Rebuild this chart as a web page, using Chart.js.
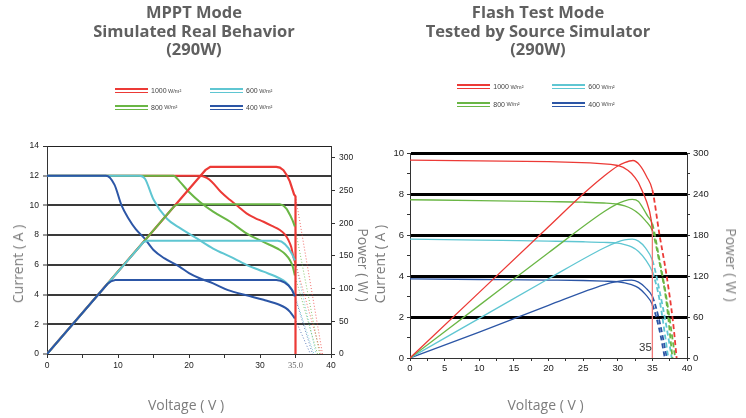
<!DOCTYPE html>
<html><head><meta charset="utf-8">
<script src="https://cdn.jsdelivr.net/npm/chart.js@4.4.1/dist/chart.umd.min.js"></script>
<style>
html,body{margin:0;padding:0;background:#fff;}
#wrap{position:relative;width:746px;height:418px;overflow:hidden;font-family:'Open Sans',sans-serif;background:#fff;}
canvas{position:absolute;top:0;}
.title{position:absolute;top:3px;transform:translateX(-50%);text-align:center;font-weight:700;font-size:16.5px;line-height:18.5px;color:#606060;white-space:nowrap;}
.ax{position:absolute;transform:translate(-50%,-50%);font-size:14px;color:#7d7d7d;white-space:nowrap;line-height:16px;}
.leg{position:absolute;display:flex;align-items:center;white-space:nowrap;height:5.4px;}
.leg .sw{width:33px;height:5.4px;box-sizing:border-box;border-top:2.7px solid;border-bottom:1.3px solid;margin-right:3px;}
.leg .n{font-size:7px;color:#444;font-family:'Liberation Sans',Arial,sans-serif;}
.leg .u{font-size:5.5px;color:#444;margin-left:1.5px;font-family:'Liberation Sans',Arial,sans-serif;}
</style></head>
<body>
<div id="wrap">
  <canvas id="c1" width="373" height="418" style="left:0"></canvas>
  <canvas id="c2" width="373" height="418" style="left:373px"></canvas>
  <div class="title" style="left:194px">MPPT Mode<br>Simulated Real Behavior<br>(290W)</div>
  <div class="title" style="left:538px">Flash Test Mode<br>Tested by Source Simulator<br>(290W)</div>
  <div class="ax" style="left:18px;top:264px;transform:translate(-50%,-50%) rotate(-90deg)">Current ( A )</div>
  <div class="ax" style="left:362.5px;top:265px;transform:translate(-50%,-50%) rotate(90deg)">Power ( W )</div>
  <div class="ax" style="left:186px;top:405px">Voltage ( V )</div>
  <div class="ax" style="left:380px;top:264px;transform:translate(-50%,-50%) rotate(-90deg)">Current ( A )</div>
  <div class="ax" style="left:730.5px;top:265px;transform:translate(-50%,-50%) rotate(90deg)">Power ( W )</div>
  <div class="ax" style="left:545.5px;top:405px">Voltage ( V )</div>
</div>
<script>
// ---------- DATA ----------
const irradiance = ['1000', '800', '600', '400'];
const irradianceUnit = 'W/m²';

// MPPT mode (left) : current (A) vs voltage (V)
const mpptCurrent1000 = [[0,12],[21.5,12],[22.5,11.85],[23.2,11.6],[24.5,10.9],[25.8,10.36],[27,9.9],[28.1,9.47],[29.3,9.15],[30.5,8.9],[31.7,8.62],[32.8,8.35],[33.5,8.05],[34,7.67],[34.4,7.2],[34.7,6.55],[35,6.1]];
const mpptCurrent800  = [[0,12],[17.8,12],[18.7,11.6],[20,10.9],[21.5,10.25],[23.4,9.58],[25.8,8.9],[28.1,8.12],[30.4,7.56],[32.8,7.0],[33.6,6.7],[34.2,6.33],[34.6,5.9],[34.9,5.3]];
const mpptCurrent600  = [[0,12],[13,12],[13.8,11.8],[15,10.4],[16.9,9.1],[18.8,8.45],[21.1,7.78],[23.4,7.1],[25.8,6.55],[28.1,6.0],[30.5,5.54],[32.8,5.09],[33.6,4.85],[34.2,4.53],[34.6,4.25],[34.9,3.97]];
const mpptCurrent400  = [[0,12],[8.3,12],[9.5,11.4],[10.5,10.0],[11.5,9.1],[12.5,8.4],[13.7,7.8],[15,7.0],[16.5,6.45],[18.7,5.87],[20,5.45],[21.5,5.1],[23.4,4.75],[25.5,4.3],[28.1,3.95],[30.5,3.65],[32.8,3.3],[33.6,3.1],[34.2,2.85],[34.9,2.4]];
// MPPT mode (left) : power (W) vs voltage (V)
const mpptPower1000 = [[0,0],[21.5,271],[22.3,281],[23,286],[32.3,286],[32.8,285],[33.3,281],[33.8,273],[34.2,264],[34.5,254],[34.8,244],[35,241],[35,0]];
const mpptPower800  = [[0,0],[17.6,222],[18.0,227],[18.6,229],[32.8,229],[33.3,227],[33.8,221],[34.3,211],[34.6,204],[34.9,195]];
const mpptPower600  = [[0,0],[13.2,166],[13.6,171],[14.1,173],[32.5,173],[33.0,172],[33.5,168],[34.0,162],[34.5,153],[34.9,143]];
const mpptPower400  = [[0,0],[8.5,107],[9.0,111],[9.6,113],[32.3,113],[32.9,112],[33.5,109],[34.0,105],[34.5,98],[34.9,88]];
// MPPT mode (left) : dotted extrapolation beyond 35 V
const mpptTailCurrent1000 = [[35,6.1],[38.6,0]];
const mpptTailCurrent800  = [[34.9,5.3],[38.1,0]];
const mpptTailCurrent600  = [[34.9,3.97],[37.6,0]];
const mpptTailCurrent400  = [[34.9,2.4],[37.1,0]];
const mpptTailPower1000 = [[35,241],[38.8,0]];
const mpptTailPower800  = [[34.9,195],[38.4,0]];
const mpptTailPower600  = [[34.9,143],[37.9,0]];
const mpptTailPower400  = [[34.9,88],[37.4,0]];

// Flash test mode (right) : current (A) vs voltage (V)
const flashCurrent1000 = [[0,9.65],[10,9.62],[20,9.58],[26,9.52],[29,9.45],[30,9.39],[30.8,9.3],[31.5,9.15],[32,9.0],[32.5,8.8],[33,8.55],[33.4,8.25],[33.8,7.95],[34.2,7.6],[34.6,7.15],[34.85,6.7],[35,6.2],[35,0]];
const flashCurrent800  = [[0,7.72],[10,7.68],[20,7.63],[25,7.6],[28,7.56],[30,7.5],[31,7.42],[32,7.28],[33,7.05],[34,6.7],[35,6.2],[36,4.7],[37,2.8],[37.9,0]];
const flashCurrent600  = [[0,5.8],[10,5.75],[20,5.7],[25,5.67],[28,5.64],[30,5.6],[31,5.53],[32,5.42],[33,5.2],[34,4.8],[35,4.2],[36,2.9],[37.3,0]];
const flashCurrent400  = [[0,3.86],[10,3.83],[20,3.8],[25,3.78],[28,3.75],[30,3.72],[31,3.67],[32,3.58],[33,3.42],[34,3.1],[35,2.6],[36,1.4],[36.8,0]];
// Flash test mode (right) : power (W) vs voltage (V)
const flashPower1000 = [[0,0],[10,96],[20,192],[25,240],[28,266],[30,281],[31,286],[32.2,289],[33.2,282],[34.2,265],[35,246],[36,182],[37,124],[38,51],[38.5,0]];
const flashPower800  = [[0,0],[10,77],[20,154],[28,214],[30,226],[31,230],[32.1,232],[33,229],[33.6,220],[34.3,208],[35,196],[36,145],[37,90],[38.3,0]];
const flashPower600  = [[0,0],[10,58],[20,116],[28,161],[30,170],[31,173],[32.1,174],[33,171],[34,161],[35,143],[36,100],[37,48],[37.8,0]];
const flashPower400  = [[0,0],[10,38],[20,77],[28,107],[30,112],[31,113.5],[32,114],[33,111],[34,103],[35,90],[36,55],[37.1,0]];

// Tick labels
const mpptXLabels = [0, 10, 20, 30, 40];
const mpptCutoffLabel = '35.0';
const mpptCutoffVoltage = 35;
const mpptCurrentTicks = [0, 2, 4, 6, 8, 10, 12, 14];
const mpptPowerTicks = [0, 50, 100, 150, 200, 250, 300];
const flashXLabels = [0, 5, 10, 15, 20, 25, 30, 35, 40];
const flashCurrentLabels = [0, 2, 4, 6, 8, 10];
const flashPowerLabels = [0, 60, 120, 180, 240, 300];
const flashCutoffLabel = '35';

// ---------- STYLE ----------
const colors = ['#ec3a36', '#6ab645', '#5fc6d2', '#2c56a6'];
const tailColors = ['rgba(236,58,54,0.75)', 'rgba(106,182,69,0.8)', 'rgba(95,198,210,0.8)', 'rgba(44,86,166,0.75)'];
const legendPos = [
  [[115,88],[115,104.7],[210,88],[210,104.7]],
  [[457.3,84],[457.3,101.7],[552.3,84],[552.3,101.7]]
];

const wrap = document.getElementById('wrap');
legendPos.forEach(pos => {
  irradiance.forEach((lab, i) => {
    const d = document.createElement('div');
    d.className = 'leg';
    d.style.left = pos[i][0] + 'px';
    d.style.top = pos[i][1] + 'px';
    d.innerHTML = '<div class="sw" style="border-color:' + colors[i] + '"></div><span class="n">' + lab + '</span><span class="u">' + irradianceUnit + '</span>';
    wrap.appendChild(d);
  });
});

const pts = a => a.map(p => ({x: p[0], y: p[1]}));
// curves whose x values strictly increase use monotone interpolation (no overshoot);
// curves containing a vertical drop are drawn with straight segments
function line(data, color, axis, extra) {
  const increasing = data.every((p, i) => i === 0 || p[0] > data[i - 1][0]);
  const base = {data: pts(data), borderColor: color, backgroundColor: color, yAxisID: axis,
    showLine: true, pointRadius: 0, fill: false, borderWidth: 2};
  if (increasing) base.cubicInterpolationMode = 'monotone'; else base.tension = 0;
  return Object.assign(base, extra || {});
}
const straight = {cubicInterpolationMode: 'default', tension: 0};

const tickFont = size => ({family: "'Liberation Sans', Arial, sans-serif", size: size});

// ---------- LEFT CHART ----------
const mpptCurrents = [mpptCurrent1000, mpptCurrent800, mpptCurrent600, mpptCurrent400];
const mpptPowers = [mpptPower1000, mpptPower800, mpptPower600, mpptPower400];
const mpptTailI = [mpptTailCurrent1000, mpptTailCurrent800, mpptTailCurrent600, mpptTailCurrent400];
const mpptTailP = [mpptTailPower1000, mpptTailPower800, mpptTailPower600, mpptTailPower400];

const leftSets = [];
// dataset 0 is drawn on top
for (let i = 3; i >= 0; i--) leftSets.push(line(mpptPowers[i], colors[i], 'y1', Object.assign({}, straight, i === 0 ? {borderWidth: 2.2} : {})));
for (let i = 3; i >= 0; i--) leftSets.push(line(mpptCurrents[i], colors[i], 'y'));
for (let i = 0; i < 4; i++) {
  leftSets.push(line(mpptTailP[i], tailColors[i], 'y1', {borderWidth: 1, borderDash: [1, 2]}));
  leftSets.push(line(mpptTailI[i], tailColors[i], 'y', {borderWidth: 1, borderDash: [1, 2]}));
}

new Chart(document.getElementById('c1'), {
  type: 'scatter',
  data: {datasets: leftSets},
  options: {
    responsive: false, animation: false, devicePixelRatio: 1,
    layout: {padding: {left: 0, top: 146, right: 12, bottom: 44}},
    plugins: {legend: {display: false}, tooltip: {enabled: false}, title: {display: false}},
    scales: {
      x: {type: 'linear', min: 0, max: 40,
        ticks: {stepSize: 5, autoSkip: false, maxRotation: 0, padding: 3, color: c => c.tick && c.tick.value === mpptCutoffVoltage ? '#666' : '#222',
          font: c => (c.tick && c.tick.value === mpptCutoffVoltage) ? {family: "'Liberation Serif', serif", size: 8.5} : tickFont(8.5),
          callback: v => mpptXLabels.includes(v) ? String(v) : (v === mpptCutoffVoltage ? mpptCutoffLabel : '')},
        grid: {drawOnChartArea: false, tickLength: 4, color: '#333', tickWidth: 1},
        border: {color: '#333', width: 1},
        afterFit: s => { s.height = 20; }},
      y: {type: 'linear', position: 'left', min: 0, max: 14,
        ticks: {stepSize: 2, autoSkip: false, padding: 4, color: '#222', font: tickFont(8.5),
          callback: v => mpptCurrentTicks.includes(v) ? String(v) : ''},
        grid: {tickLength: 4, tickColor: '#333', tickWidth: 1,
          color: c => c.tick.value === 0 ? 'rgba(0,0,0,0)' : (c.tick.value === 14 ? '#222' : '#3a3a3a'),
          lineWidth: c => c.tick.value === 14 ? 1 : 2},
        border: {color: '#333', width: 1},
        afterFit: s => { s.width = 47; }},
      y1: {type: 'linear', position: 'right', min: 0, max: 318,
        ticks: {stepSize: 50, includeBounds: false, autoSkip: false, padding: 4, color: '#222', font: tickFont(8.5),
          callback: v => mpptPowerTicks.includes(v) ? String(v) : ''},
        grid: {drawOnChartArea: false, tickLength: 4, color: '#333', tickWidth: 1},
        border: {color: '#333', width: 1},
        afterFit: s => { s.width = 30; }}
    }
  }
});

// ---------- RIGHT CHART ----------
const flashCurrents = [flashCurrent1000, flashCurrent800, flashCurrent600, flashCurrent400];
const flashPowers = [flashPower1000, flashPower800, flashPower600, flashPower400];
const cutoff = 35;
const seg = () => ({
  borderDash: c => (c.p0.parsed.x >= cutoff && c.p1.parsed.x > c.p0.parsed.x) ? [5, 3] : undefined,
  borderWidth: c => (c.p0.parsed.x >= cutoff && c.p1.parsed.x > c.p0.parsed.x) ? 1.8 : undefined,
  borderColor: c => (c.p0.parsed.x === c.p1.parsed.x) ? '#f07a7a' : undefined
});
const rightSets = [];
for (let i = 0; i < 4; i++) {
  rightSets.push(line(flashCurrents[i], colors[i], 'y', {borderWidth: 1.3, segment: seg()}));
  rightSets.push(line(flashPowers[i], colors[i], 'y1', {borderWidth: 1.3, segment: seg()}));
}

const cutoffLabelPlugin = {
  id: 'cutoffLabel',
  afterDatasetsDraw(chart) {
    const ctx = chart.ctx, x = chart.scales.x, y = chart.scales.y;
    ctx.save();
    ctx.font = "11.5px 'Liberation Sans', Arial, sans-serif";
    ctx.fillStyle = '#333';
    ctx.textAlign = 'center';
    ctx.textBaseline = 'middle';
    ctx.fillText(flashCutoffLabel, x.getPixelForValue(34.0), y.getPixelForValue(0.48));
    ctx.restore();
  }
};

new Chart(document.getElementById('c2'), {
  type: 'scatter',
  data: {datasets: rightSets},
  plugins: [cutoffLabelPlugin],
  options: {
    responsive: false, animation: false, devicePixelRatio: 1,
    layout: {padding: {left: 0, top: 153, right: 29, bottom: 40}},
    plugins: {legend: {display: false}, tooltip: {enabled: false}, title: {display: false}},
    scales: {
      x: {type: 'linear', min: 0, max: 40,
        ticks: {stepSize: 2.5, autoSkip: false, maxRotation: 0, padding: 2, color: '#222', font: tickFont(9.5),
          callback: v => flashXLabels.includes(v) ? String(v) : ''},
        grid: {drawOnChartArea: false, tickLength: 3, color: '#333', tickWidth: 1},
        border: {color: '#333', width: 1},
        afterFit: s => { s.height = 20; }},
      y: {type: 'linear', position: 'left', min: 0, max: 10,
        ticks: {stepSize: 1, autoSkip: false, padding: 3, color: '#222', font: tickFont(9.5),
          callback: v => flashCurrentLabels.includes(v) ? String(v) : ''},
        grid: {tickLength: 3, tickColor: '#333', tickWidth: 1,
          color: c => (c.tick.value > 0 && c.tick.value % 2 === 0) ? '#000' : 'rgba(0,0,0,0)',
          lineWidth: c => (c.tick.value > 0 && c.tick.value % 2 === 0) ? 3 : 1},
        border: {color: '#333', width: 1},
        afterFit: s => { s.width = 37; }},
      y1: {type: 'linear', position: 'right', min: 0, max: 300,
        ticks: {stepSize: 30, autoSkip: false, padding: 3, color: '#222', font: tickFont(9.5),
          callback: v => flashPowerLabels.includes(v) ? String(v) : ''},
        grid: {drawOnChartArea: false, tickLength: 3, color: '#333', tickWidth: 1},
        border: {color: '#333', width: 1},
        afterFit: s => { s.width = 30; }}
    }
  }
});
</script>
</body></html>
